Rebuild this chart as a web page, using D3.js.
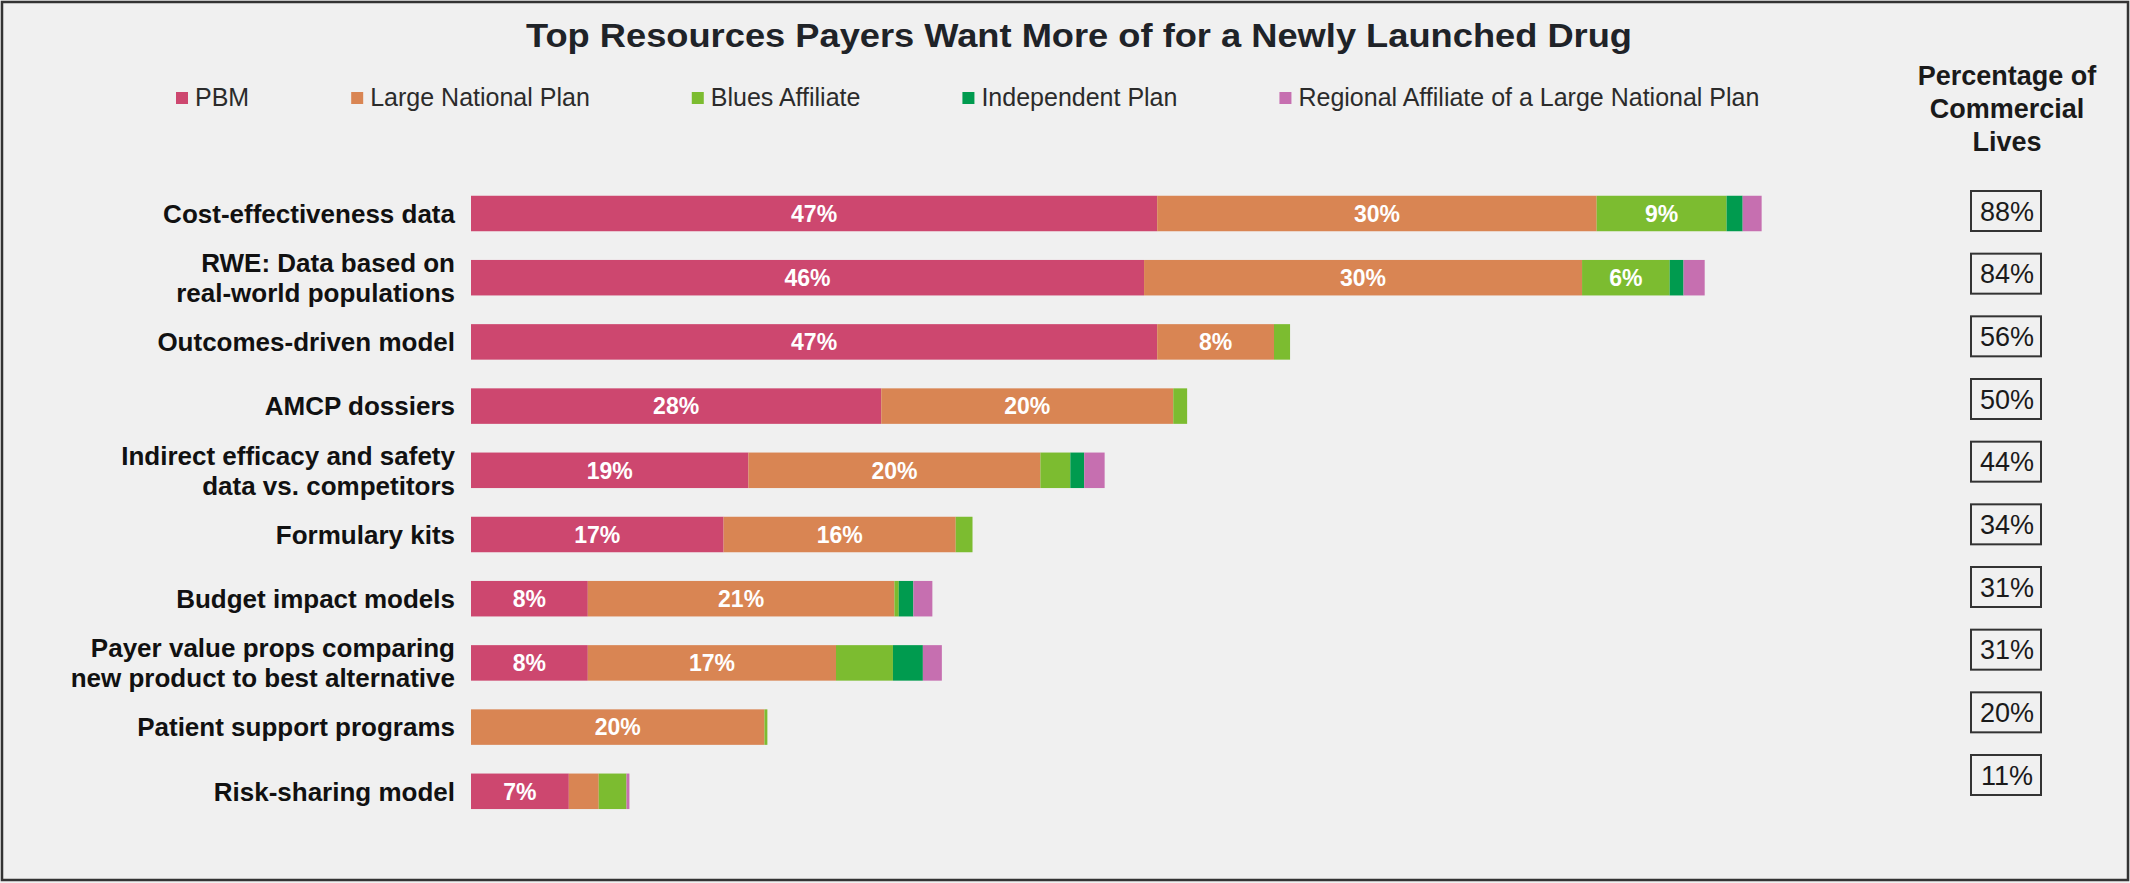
<!DOCTYPE html>
<html>
<head>
<meta charset="utf-8">
<script src="https://cdn.jsdelivr.net/npm/d3@7"></script>
<style>
  body { margin: 0; background: #f0f0f0; }
  svg { display: block; }
  text { font-family: "Liberation Sans", Arial, sans-serif; }
</style>
</head>
<body>
<svg id="chart"></svg>
<script>
// categories (top to bottom), "\n" splits the label on two lines
var categories = [
  "Cost-effectiveness data",
  "RWE: Data based on\nreal-world populations",
  "Outcomes-driven model",
  "AMCP dossiers",
  "Indirect efficacy and safety\ndata vs. competitors",
  "Formulary kits",
  "Budget impact models",
  "Payer value props comparing\nnew product to best alternative",
  "Patient support programs",
  "Risk-sharing model"
];

// share of respondents per payer type (%)
var pbm           = [47, 46.1, 47, 28.1, 19, 17.3, 8, 8, 0, 6.7];
var largeNational = [30.1, 30, 8, 20, 20, 15.9, 21, 17, 20.1, 2.05];
var blues         = [8.9, 6, 1.1, 0.95, 2.05, 1.15, 0.3, 3.9, 0.2, 1.9];
var independent   = [1.1, 0.95, 0, 0, 0.95, 0, 1.0, 2.05, 0, 0];
var regional      = [1.3, 1.45, 0, 0, 1.4, 0, 1.3, 1.3, 0, 0.2];

// right column
var commercialLives = [88, 84, 56, 50, 44, 34, 31, 31, 20, 11];

var seriesNames = ["PBM", "Large National Plan", "Blues Affiliate", "Independent Plan",
                   "Regional Affiliate of a Large National Plan"];
var seriesColors = ["#cd476f", "#d98553", "#7cbc30", "#009b4f", "#c66fb0"];

var W = 2130, H = 883;

var svg = d3.select("#chart").attr("width", W).attr("height", H);

// background + frame
svg.append("rect").attr("x", 2).attr("y", 2).attr("width", W - 4).attr("height", H - 5)
  .attr("fill", "#f0f0f0").attr("stroke", "#333").attr("stroke-width", 2.5);

// title
svg.append("text")
  .attr("x", 1079).attr("y", 47)
  .attr("text-anchor", "middle")
  .attr("font-size", 34).attr("font-weight", "bold").attr("fill", "#1f2328")
  .attr("textLength", 1106).attr("lengthAdjust", "spacingAndGlyphs")
  .text("Top Resources Payers Want More of for a Newly Launched Drug");

// legend, laid out left to right
var legend = svg.append("g").attr("transform", "translate(176,92)");
var lx = 0;
seriesNames.forEach(function(name, i) {
  var g = legend.append("g").attr("transform", "translate(" + lx + ",0)");
  g.append("rect").attr("width", 12).attr("height", 12).attr("fill", seriesColors[i]);
  var t = g.append("text").attr("x", 19).attr("y", 14)
    .attr("font-size", 25).attr("fill", "#2b2b2b").text(name);
  lx += 19 + t.node().getComputedTextLength() + 102;
});

// right header
var header = ["Percentage of", "Commercial", "Lives"];
svg.append("g").selectAll("text").data(header).join("text")
  .attr("x", 2007).attr("y", function(d, i) { return 85 + i * 33; })
  .attr("text-anchor", "middle")
  .attr("font-size", 27).attr("font-weight", "bold").attr("fill", "#1a1a1a")
  .text(function(d) { return d; });

// scales
var x = d3.scaleLinear().domain([0, 100]).range([471, 1931]);
var y = d3.scaleBand().domain(categories).range([181.4, 823.4])
  .paddingInner(0.447).paddingOuter(0.2235);
var yBox = d3.scalePoint().domain(categories).range([211, 775]);

var rows = categories.map(function(c, i) {
  return { cat: c, s0: pbm[i], s1: largeNational[i], s2: blues[i], s3: independent[i], s4: regional[i] };
});
var stack = d3.stack().keys(["s0", "s1", "s2", "s3", "s4"]);
var layers = stack(rows);

var bars = svg.append("g");
layers.forEach(function(layer, k) {
  var g = bars.append("g").attr("fill", seriesColors[k]);
  g.selectAll("rect").data(layer).join("rect")
    .attr("x", function(d) { return x(d[0]); })
    .attr("y", function(d) { return y(d.data.cat); })
    .attr("width", function(d) { return Math.max(0, x(d[1]) - x(d[0])); })
    .attr("height", y.bandwidth());
  // values on the bigger segments
  g.selectAll("text").data(layer.filter(function(d) { return d[1] - d[0] >= 5; })).join("text")
    .attr("x", function(d) { return (x(d[0]) + x(d[1])) / 2; })
    .attr("y", function(d) { return y(d.data.cat) + y.bandwidth() / 2; })
    .attr("dy", "0.36em")
    .attr("text-anchor", "middle")
    .attr("font-size", 23).attr("font-weight", "bold").attr("fill", "#fff")
    .text(function(d) { return Math.round(d[1] - d[0]) + "%"; });
});

// category labels
var labels = svg.append("g");
categories.forEach(function(c) {
  var lines = c.split("\n");
  var cy = y(c) + y.bandwidth() / 2;
  var t = labels.append("text")
    .attr("text-anchor", "end")
    .attr("font-size", 26).attr("font-weight", "bold").attr("fill", "#111");
  lines.forEach(function(line, j) {
    t.append("tspan").attr("x", 455)
      .attr("y", cy + (j - (lines.length - 1) / 2) * 30)
      .attr("dy", "0.36em")
      .text(line);
  });
});

// commercial lives boxes
var boxes = svg.append("g");
categories.forEach(function(c, i) {
  var cy = yBox(c);
  boxes.append("rect").attr("x", 1971).attr("y", cy - 20).attr("width", 70).attr("height", 40)
    .attr("fill", "none").attr("stroke", "#333").attr("stroke-width", 2);
  boxes.append("text").attr("x", 2007).attr("y", cy).attr("dy", "0.36em")
    .attr("text-anchor", "middle").attr("font-size", 27).attr("fill", "#1a1a1a")
    .text(commercialLives[i] + "%");
});
</script>
</body>
</html>
